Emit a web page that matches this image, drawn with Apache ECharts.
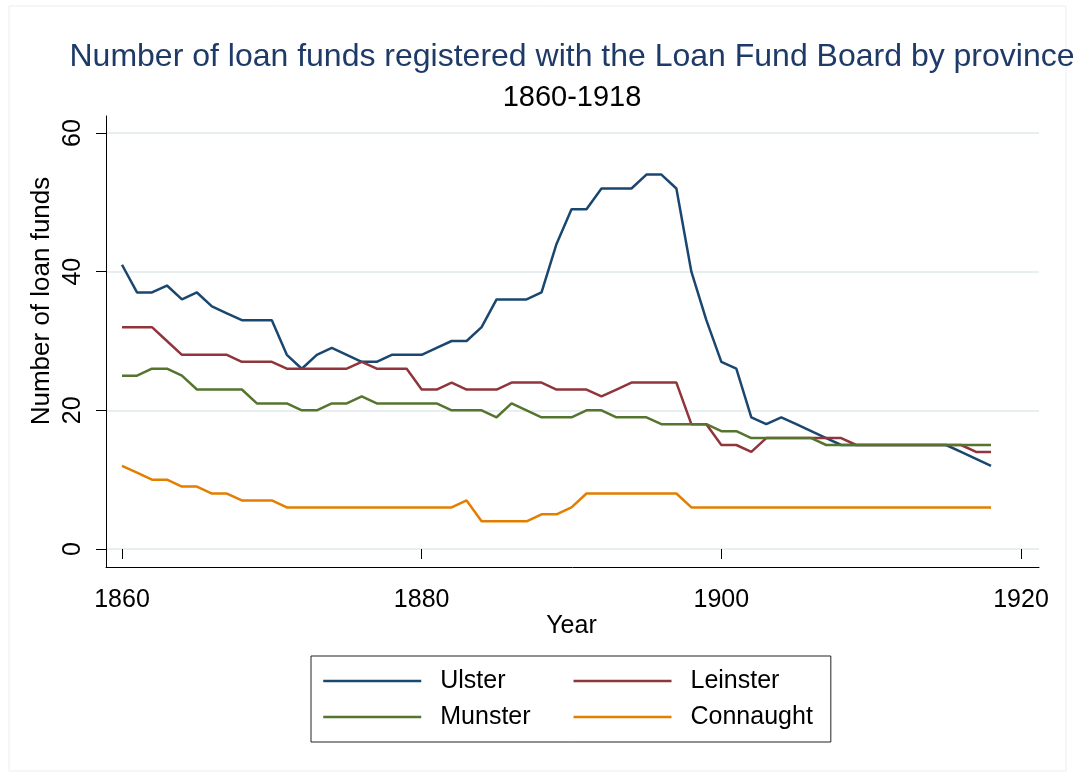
<!DOCTYPE html>
<html lang="en">

<head>
    <meta charset="UTF-8">
    <title>Loan funds by province</title>
    <script src="https://cdn.jsdelivr.net/npm/echarts@6/dist/echarts.min.js"></script>
    <style>
        html, body { margin: 0; padding: 0; background: #fff; }
        #chart { width: 1079px; height: 774px; }
    </style>
</head>

<body>
    <div id="chart"></div>

    <script type="text/javascript">
        // data, one value per year 1860-1918
        var years = [];
        for (var y = 1860; y <= 1918; y++) years.push(y);

        var ulster = [41, 37, 37, 38, 36, 37, 35, 34, 33, 33,
            33, 28, 26, 28, 29, 28, 27, 27, 28, 28,
            28, 29, 30, 30, 32, 36, 36, 36, 37, 44,
            49, 49, 52, 52, 52, 54, 54, 52, 40, 33,
            27, 26, 19, 18, 19, 18, 17, 16, 15, 15,
            15, 15, 15, 15, 15, 15, 14, 13, 12];
        var leinster = [32, 32, 32, 30, 28, 28, 28, 28, 27, 27,
            27, 26, 26, 26, 26, 26, 27, 26, 26, 26,
            23, 23, 24, 23, 23, 23, 24, 24, 24, 23,
            23, 23, 22, 23, 24, 24, 24, 24, 18, 18,
            15, 15, 14, 16, 16, 16, 16, 16, 16, 15,
            15, 15, 15, 15, 15, 15, 15, 14, 14];
        var munster = [25, 25, 26, 26, 25, 23, 23, 23, 23, 21,
            21, 21, 20, 20, 21, 21, 22, 21, 21, 21,
            21, 21, 20, 20, 20, 19, 21, 20, 19, 19,
            19, 20, 20, 19, 19, 19, 18, 18, 18, 18,
            17, 17, 16, 16, 16, 16, 16, 15, 15, 15,
            15, 15, 15, 15, 15, 15, 15, 15, 15];
        var connaught = [12, 11, 10, 10, 9, 9, 8, 8, 7, 7,
            7, 6, 6, 6, 6, 6, 6, 6, 6, 6,
            6, 6, 6, 7, 4, 4, 4, 4, 5, 5,
            6, 8, 8, 8, 8, 8, 8, 8, 6, 6,
            6, 6, 6, 6, 6, 6, 6, 6, 6, 6,
            6, 6, 6, 6, 6, 6, 6, 6, 6];

        var names = ['Ulster', 'Leinster', 'Munster', 'Connaught'];
        var colors = ['#1a476f', '#90353b', '#55752f', '#e37e00'];
        var yTicks = [0, 20, 40, 60];
        var xTicks = [1860, 1880, 1900, 1920];

        var font = 'Liberation Sans, Arial, sans-serif';

        function pairs(vals) {
            return years.map(function (yr, i) { return [yr, vals[i]]; });
        }

        var chart = echarts.init(document.getElementById('chart'));

        var option = {
            backgroundColor: '#fff',
            textStyle: { fontFamily: font },
            title: [
                {
                    text: 'Number of loan funds registered with the Loan Fund Board by province',
                    left: 567,
                    top: 36,
                    textAlign: 'center',
                    textStyle: { fontFamily: font, fontSize: 32, fontWeight: 'normal', color: '#1e3a68' }
                },
                {
                    text: '1860-1918',
                    left: 567,
                    top: 78,
                    textAlign: 'center',
                    textStyle: { fontFamily: font, fontSize: 29, fontWeight: 'normal', color: '#000' }
                }
            ],
            legend: {
                data: names,
                left: 311,
                top: 656,
                width: 500,
                padding: [12, 18, 12, 11],
                borderColor: '#222',
                borderWidth: 1,
                itemWidth: 98,
                itemHeight: 26,
                itemGap: 10,
                itemStyle: { opacity: 0 },
                lineStyle: { width: 2.5 },
                textStyle: {
                    fontFamily: font,
                    fontSize: 25,
                    color: '#000',
                    width: 122,
                    lineHeight: 26,
                    padding: [0, 0, 0, 14]
                }
            },
            // 0: faint outer frame, 1: axis lines, 2: gridlines, 3: data
            grid: [
                { left: 9, top: 6, right: 13, bottom: 3, show: true, borderColor: '#e8eff1', borderWidth: 1 },
                { left: 106, top: 116, right: 40, bottom: 207 },
                { left: 106, top: 133, right: 40, bottom: 225 },
                { left: 122, top: 133, right: 58, bottom: 225 }
            ],
            xAxis: [
                { gridIndex: 0, type: 'value', show: false },
                {
                    gridIndex: 1, type: 'value', min: 0, max: 1,
                    axisLine: { show: true, onZero: false, lineStyle: { color: '#000', width: 1 } },
                    axisTick: { show: false }, axisLabel: { show: false }, splitLine: { show: false }
                },
                { gridIndex: 2, type: 'value', show: false },
                {
                    gridIndex: 3, type: 'value', min: xTicks[0], max: xTicks[xTicks.length - 1], interval: 20,
                    offset: 18,
                    name: 'Year', nameLocation: 'middle', nameGap: 47, nameMoveOverlap: false,
                    nameTextStyle: { fontFamily: font, fontSize: 25, color: '#000' },
                    axisLine: { show: false },
                    axisTick: { show: true, length: 10, lineStyle: { color: '#000' } },
                    axisLabel: {
                        fontFamily: font, fontSize: 25, color: '#000', margin: 21,
                        formatter: function (v) { return String(v); }
                    },
                    splitLine: { show: false }
                }
            ],
            yAxis: [
                { gridIndex: 0, type: 'value', show: false },
                {
                    gridIndex: 1, type: 'value', min: 0, max: 1,
                    axisLine: { show: true, onZero: false, lineStyle: { color: '#000', width: 1 } },
                    axisTick: { show: false }, axisLabel: { show: false }, splitLine: { show: false }
                },
                {
                    gridIndex: 2, type: 'value', min: yTicks[0], max: yTicks[yTicks.length - 1], interval: 20,
                    axisLine: { show: false }, axisTick: { show: false }, axisLabel: { show: false },
                    splitLine: { show: true, lineStyle: { color: '#e8eff1', width: 2 } }
                },
                {
                    gridIndex: 3, type: 'value', min: yTicks[0], max: yTicks[yTicks.length - 1], interval: 20,
                    offset: 16,
                    axisLine: { show: false },
                    axisTick: { show: true, length: 10, lineStyle: { color: '#000' } },
                    axisLabel: { fontFamily: font, fontSize: 25, color: '#000', rotate: 90, margin: 20 },
                    splitLine: { show: false }
                }
            ],
            graphic: [
                {
                    type: 'text',
                    x: 42,
                    y: 301,
                    rotation: Math.PI / 2,
                    style: {
                        text: 'Number of loan funds',
                        fontFamily: font,
                        fontSize: 26,
                        fill: '#000',
                        align: 'center',
                        verticalAlign: 'middle'
                    }
                }
            ],
            series: [ulster, leinster, munster, connaught].map(function (vals, i) {
                return {
                    name: names[i],
                    type: 'line',
                    xAxisIndex: 3,
                    yAxisIndex: 3,
                    data: pairs(vals),
                    symbol: 'none',
                    animation: false,
                    color: colors[i],
                    lineStyle: { width: 2.5, color: colors[i] }
                };
            })
        };
        chart.setOption(option);
    </script>
</body>

</html>
